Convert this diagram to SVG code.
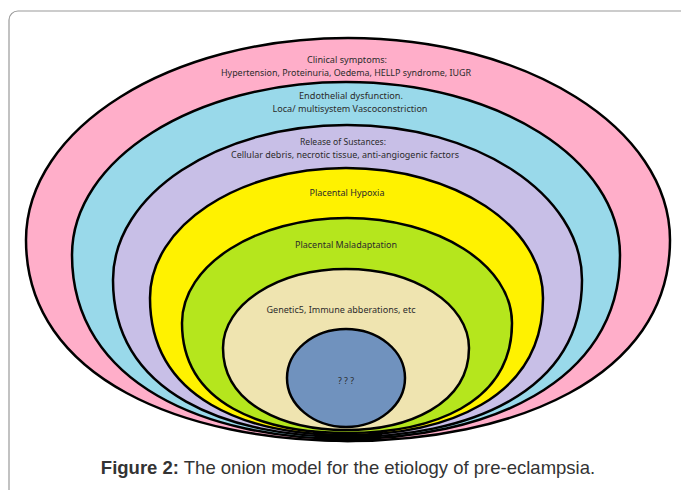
<svg xmlns="http://www.w3.org/2000/svg" width="681" height="490" viewBox="0 0 681 490">
<style>
.layer{stroke:#000;stroke-width:2.5;stroke-linejoin:round}
.t{font-family:"Noto Sans","Liberation Sans",sans-serif;font-size:9.5px;fill:#2b2b2b;text-anchor:middle}
.cap{font-family:"Liberation Sans",Arial,sans-serif;font-size:18.5px;fill:#333;text-anchor:middle}
</style>
<rect width="681" height="490" fill="#fff"/>
<rect x="9" y="11" width="700" height="520" rx="9" fill="none" stroke="#9a9a9a" stroke-width="1.2"/>
<g id="pink">
<path class="layer" fill="#FFAEC9" d="M348,38 C170,38 26,128 26,240 C26,380 187,441 348,441 C509,441 670,380 670,240 C670,128 526,38 348,38 Z"/>
<text class="t" x="347" y="63" textLength="80" lengthAdjust="spacingAndGlyphs">Clinical  symptoms:</text>
<text class="t" x="346" y="76" textLength="250" lengthAdjust="spacingAndGlyphs">Hypertension, Proteinuria, Oedema, HELLP syndrome, IUGR</text>
</g>
<g id="blue">
<path class="layer" fill="#99D9EA" d="M346,82 C195,82 72,159 72,255 C72,385 209,439 346,439 C483,439 620,385 620,255 C620,159 497,82 346,82 Z"/>
<text class="t" x="351" y="99" textLength="104" lengthAdjust="spacingAndGlyphs">Endothelial dysfunction.</text>
<text class="t" x="350" y="112" textLength="155" lengthAdjust="spacingAndGlyphs">Loca/ multisystem Vascoconstriction</text>
</g>
<g id="lavender">
<path class="layer" fill="#C8BFE7" d="M347,125 C218,125 113,194 113,280 C113,395 230,437 347,437 C464,437 582,395 582,280 C582,194 476,125 347,125 Z"/>
<text class="t" x="343" y="145" textLength="86" lengthAdjust="spacingAndGlyphs">Release of Sustances:</text>
<text class="t" x="345" y="158" textLength="228" lengthAdjust="spacingAndGlyphs">Cellular debris, necrotic tissue, anti-angiogenic factors</text>
</g>
<g id="yellow">
<path class="layer" fill="#FFF200" d="M346,168 C238,168 150,226 150,298 C150,400 248,435 346,435 C444,435 543,400 543,298 C543,226 455,168 346,168 Z"/>
<text class="t" x="347" y="196" textLength="75" lengthAdjust="spacingAndGlyphs">Placental Hypoxia</text>
</g>
<g id="green">
<path class="layer" fill="#B5E61D" d="M347,218 C256,218 182,265 182,323 C182,405 264,433 347,433 C430,433 512,405 512,323 C512,265 438,218 347,218 Z"/>
<text class="t" x="346" y="248" textLength="102" lengthAdjust="spacingAndGlyphs">Placental Maladaptation</text>
</g>
<g id="beige">
<path class="layer" fill="#EFE4B0" d="M346,269 C278,269 223,304 223,348 C223,405 285,430 346,430 C407,430 469,405 469,348 C469,304 414,269 346,269 Z"/>
<text class="t" x="341" y="313" textLength="149" lengthAdjust="spacingAndGlyphs">Genetic5, Immune abberations, etc</text>
</g>
<g id="core">
<ellipse class="layer" fill="#7092BE" cx="346" cy="378" rx="59" ry="49"/>
<text class="t" x="346" y="384" textLength="16" lengthAdjust="spacingAndGlyphs">? ? ?</text>
</g>
<g id="connectors">
<path d="M312,430 C330,437 365,437 384,430 L380,440 C360,443 335,443 316,440 Z" fill="#000"/>
</g>
<text class="cap" x="348" y="474"><tspan font-weight="bold">Figure 2:</tspan> The onion model for the etiology of pre-eclampsia.</text>
</svg>
